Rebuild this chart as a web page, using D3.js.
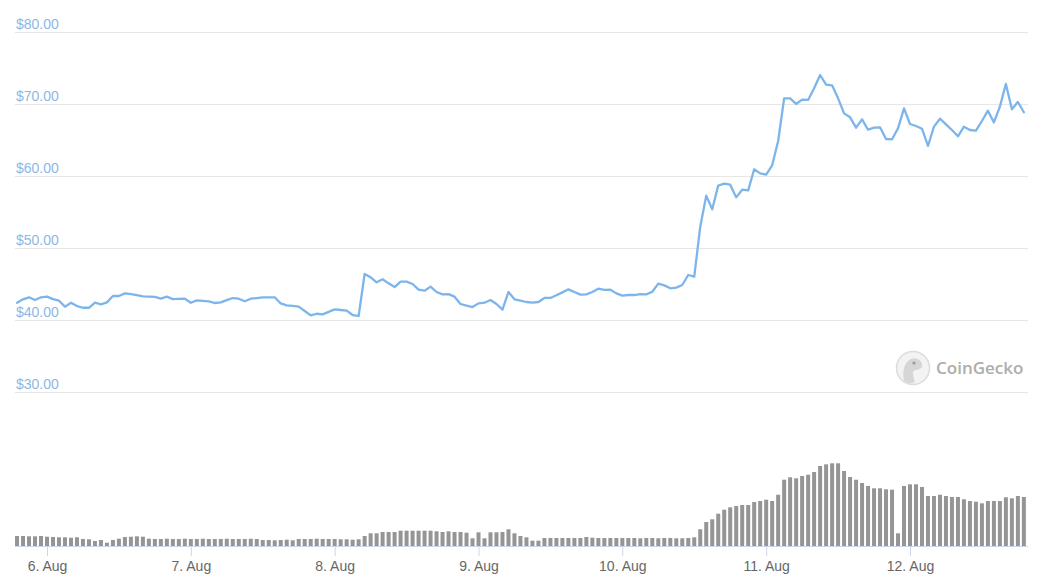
<!DOCTYPE html>
<html>
<head>
<meta charset="utf-8">
<script src="https://cdn.jsdelivr.net/npm/d3@7"></script>
<style>
  html, body { margin: 0; padding: 0; background: #ffffff; }
  svg { display: block; font-family: "Liberation Sans", Arial, sans-serif; }
</style>
</head>
<body>
<svg id="chart" width="1051" height="586"></svg>
<script>
// ---- data (hourly, starting 5 Aug 19:00 UTC) ----
const startTime = Date.UTC(2021, 7, 5, 19);
const stepHours = 1;

const priceUSD = [
  42.4, 42.87, 43.15, 42.78, 43.15, 43.24, 42.9, 42.68, 41.85, 42.4,
  41.94, 41.7, 41.7, 42.4, 42.17, 42.45, 43.33, 43.33, 43.7, 43.6,
  43.45, 43.29, 43.25, 43.2, 42.96, 43.24, 42.9, 42.93, 42.96, 42.4,
  42.73, 42.67, 42.6, 42.36, 42.45, 42.75, 43.05, 42.96, 42.6, 42.96,
  43.05, 43.15, 43.15, 43.15, 42.3, 42.04, 41.95, 41.85, 41.25, 40.64,
  40.87, 40.78, 41.13, 41.48, 41.39, 41.3, 40.69, 40.56, 46.39, 45.93,
  45.23, 45.65, 45.09, 44.58, 45.33, 45.33, 45.0, 44.21, 44.07, 44.63,
  43.89, 43.56, 43.6, 43.24, 42.22, 41.99, 41.8, 42.31, 42.4, 42.78,
  42.22, 41.43, 43.89, 42.87, 42.68, 42.5, 42.4, 42.5, 43.06, 43.06,
  43.43, 43.84, 44.26, 43.89, 43.52, 43.56, 43.89, 44.35, 44.17, 44.21,
  43.7, 43.38, 43.47, 43.47, 43.6, 43.56, 43.93, 45.05, 44.81, 44.4,
  44.49, 44.86, 46.25, 46.02, 52.96, 57.27, 55.37, 58.66, 58.94, 58.8,
  57.03, 58.1, 58.0, 60.93, 60.37, 60.19, 61.48, 64.86, 70.79, 70.79,
  70.0, 70.6, 70.56, 72.18, 74.03, 72.69, 72.6, 70.79, 68.7, 68.15,
  66.71, 67.87, 66.43, 66.71, 66.76, 65.14, 65.1, 66.62, 69.4, 67.22,
  66.94, 66.57, 64.17, 66.85, 67.96, 67.18, 66.39, 65.51, 66.85, 66.39,
  66.3, 67.64, 69.07, 67.45, 69.63, 72.78, 69.26, 70.28, 68.85
];

// volume (relative units, estimated)
const volume = [
  10, 10, 9.7, 9.7, 10, 9.3, 9, 8.7, 8.7, 8.3,
  8.7, 7, 6.7, 5, 6, 3.3, 6, 7.3, 9, 9.3,
  9.7, 9.3, 7.3, 7, 7, 7.3, 7, 7, 7.3, 7,
  7, 7.3, 7, 7, 7, 7.3, 7, 7, 7, 7.3,
  7, 6, 6, 5.7, 6, 6.3, 5.7, 7, 7, 7,
  7.3, 7, 7, 7, 6.7, 6.7, 6.3, 6.7, 10, 12.7,
  12.7, 14, 14, 14, 15.3, 15.3, 15.3, 15.3, 15.3, 15.3,
  14.7, 14, 14.7, 14, 14, 13.3, 7.7, 13.7, 7.7, 13.7,
  13.7, 14, 16.7, 12.7, 10, 8.7, 5.3, 5.3, 8, 8,
  8, 8, 8, 8, 8, 9, 8.3, 8, 8, 8,
  8, 8, 8, 8, 7.7, 8, 8, 7.7, 8, 8,
  7.7, 7.7, 8, 8.7, 16.7, 24, 26.7, 32.3, 36.3, 38.7,
  40, 41, 41, 44, 45, 46.3, 45, 51.3, 66.3, 68.7,
  67.7, 70, 71.3, 74, 80, 81.7, 82.7, 82.7, 75, 69,
  66.3, 63, 60, 57.7, 57.7, 56.7, 56.3, 12.7, 60, 61.7,
  61.7, 59, 50, 50, 51.3, 50, 49, 49, 46.7, 45,
  44.3, 42.7, 45, 45, 45, 48.7, 47.7, 50, 49
];

const priceTicks = [30, 40, 50, 60, 70, 80];
const dayTicks = [6, 7, 8, 9, 10, 11, 12];
const dayTickLabels = ["6. Aug", "7. Aug", "8. Aug", "9. Aug", "10. Aug", "11. Aug", "12. Aug"];

// ---- build ----
const points = priceUSD.map((p, i) => ({
  t: new Date(startTime + i * stepHours * 3600e3),
  price: p,
  vol: volume[i]
}));

const svg = d3.select("#chart");

const x = d3.scaleUtc()
  .domain([new Date(Date.UTC(2021, 7, 6)), new Date(Date.UTC(2021, 7, 12))])
  .range([47, 910]);

const y = d3.scaleLinear().domain([30, 80]).range([392, 32]);
const yVol = d3.scaleLinear().domain([0, 100]).range([546, 446]);

const gridLeft = 15, gridRight = 1028;

// gridlines
svg.append("g").selectAll("line")
  .data(priceTicks).join("line")
  .attr("x1", gridLeft).attr("x2", gridRight)
  .attr("y1", d => Math.round(y(d)) + 0.5).attr("y2", d => Math.round(y(d)) + 0.5)
  .attr("stroke", "#e6e6e6").attr("stroke-width", 1);

// price labels
svg.append("g").selectAll("text")
  .data(priceTicks).join("text")
  .attr("x", 16).attr("y", d => y(d) - 3)
  .attr("font-size", 14)
  .attr("fill", "#8db6e6")
  .text(d => "$" + d3.format(".2f")(d));

// watermark
const wm = svg.append("g").attr("transform", "translate(913,368)");
wm.append("circle").attr("r", 16.5).attr("fill", "#f3f3f3").attr("stroke", "#dcdcdc").attr("stroke-width", 1.5);
wm.append("path")
  .attr("d", "M-9,13 C-11,4 -9,-6 -2,-9 C3,-11 8,-8 9,-4 C10,0 6,2 2,2 C-1,3 0,8 2,14 C-2,16 -6,15 -9,13 Z")
  .attr("fill", "#d6d6d6");
wm.append("circle").attr("cx", 1).attr("cy", -5).attr("r", 1.6).attr("fill", "#9a9a9a");
svg.append("text")
  .attr("x", 936).attr("y", 374)
  .attr("font-size", 17).attr("fill", "#adadad")
  .attr("font-family", "'Open Sans', 'Liberation Sans', Arial, sans-serif")
  .attr("font-weight", 600)
  .text("CoinGecko");

// volume bars
svg.append("g").selectAll("rect")
  .data(points).join("rect")
  .attr("x", d => x(d.t) - 2)
  .attr("width", 4)
  .attr("y", d => yVol(d.vol))
  .attr("height", d => yVol(0) - yVol(d.vol))
  .attr("fill", "#959595");

// x axis
const xAxis = d3.axisBottom(x)
  .tickValues(dayTicks.map(d => new Date(Date.UTC(2021, 7, d))))
  .tickFormat((d, i) => dayTickLabels[i])
  .tickSize(10)
  .tickSizeOuter(0);

const gx = svg.append("g").attr("transform", "translate(0,546)").call(xAxis);
gx.select(".domain").attr("d", `M${gridLeft},0.5H${gridRight}`).attr("stroke", "#ccd6eb");
gx.selectAll(".tick line").attr("stroke", "#ccd6eb");
gx.selectAll(".tick text")
  .attr("font-size", 14)
  .attr("fill", "#666666")
  .attr("font-family", "'Liberation Sans', Arial, sans-serif")
  .attr("dy", 0).attr("y", 25);

// price line
const line = d3.line().x(d => x(d.t)).y(d => y(d.price));
svg.append("path")
  .datum(points)
  .attr("d", line)
  .attr("fill", "none")
  .attr("stroke", "#7cb5ec")
  .attr("stroke-width", 2.3)
  .attr("stroke-linejoin", "round")
  .attr("stroke-linecap", "round");
</script>
</body>
</html>
